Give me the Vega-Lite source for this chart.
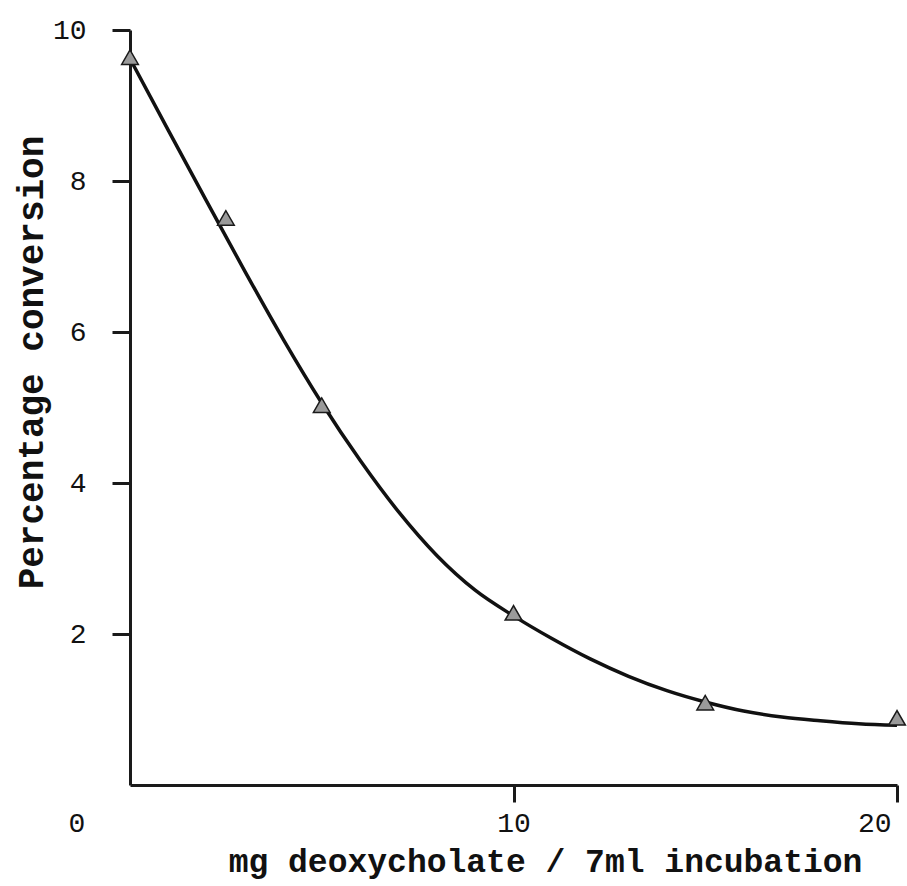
{
  "$schema": "https://vega.github.io/schema/vega-lite/v6.json",
  "autosize": {"type": "none"},
  "width": 767,
  "height": 755,
  "padding": {"left": 130, "top": 30, "right": 10, "bottom": 101},
  "background": "#ffffff",
  "config": {
    "view": {"stroke": null},
    "axis": {
      "grid": false,
      "domainColor": "#1a1a1a",
      "domainWidth": 3,
      "tickColor": "#1a1a1a",
      "tickWidth": 3,
      "labelFont": "Liberation Mono",
      "labelColor": "#111111",
      "titleFont": "Liberation Mono",
      "titleColor": "#111111",
      "titleFontWeight": "bold"
    }
  },
  "datasets": {
    "curve": [
      {"mg": 0, "pct": 9.62},
      {"mg": 1, "pct": 8.67},
      {"mg": 2, "pct": 7.73},
      {"mg": 3, "pct": 6.8},
      {"mg": 4, "pct": 5.9},
      {"mg": 5, "pct": 5.06},
      {"mg": 6, "pct": 4.3},
      {"mg": 7, "pct": 3.62},
      {"mg": 8, "pct": 3.04},
      {"mg": 9, "pct": 2.58},
      {"mg": 10, "pct": 2.24},
      {"mg": 11, "pct": 1.94},
      {"mg": 12, "pct": 1.67},
      {"mg": 13, "pct": 1.44},
      {"mg": 14, "pct": 1.25},
      {"mg": 15, "pct": 1.1},
      {"mg": 16, "pct": 0.98},
      {"mg": 17, "pct": 0.9},
      {"mg": 18, "pct": 0.85},
      {"mg": 19, "pct": 0.81},
      {"mg": 20, "pct": 0.79}
    ],
    "measured": [
      {"mg": 0, "pct": 9.64},
      {"mg": 2.5, "pct": 7.51},
      {"mg": 5, "pct": 5.03},
      {"mg": 10, "pct": 2.28},
      {"mg": 15, "pct": 1.09},
      {"mg": 20, "pct": 0.89}
    ]
  },
  "encoding": {
    "x": {
      "field": "mg",
      "type": "quantitative",
      "scale": {"domain": [0, 20], "nice": false, "zero": false},
      "axis": {
        "values": [0, 10, 20],
        "format": "d",
        "title": "mg deoxycholate / 7ml incubation",
        "titleFontSize": 33,
        "titleBaseline": "alphabetic",
        "titleX": 415,
        "titleY": 86,
        "labelFontSize": 28,
        "labelPadding": 7,
        "tickSize": 17,
        "tickOpacity": {"condition": {"test": "datum.value === 0", "value": 0}, "value": 1},
        "labelOffset": {
          "condition": [
            {"test": "datum.value === 0", "value": -62},
            {"test": "datum.value === 20", "value": -6}
          ],
          "value": 0
        }
      }
    },
    "y": {
      "field": "pct",
      "type": "quantitative",
      "scale": {"domain": [0, 10], "nice": false},
      "axis": {
        "values": [2, 4, 6, 8, 10],
        "format": "d",
        "title": "Percentage conversion",
        "titleFontSize": 36,
        "titleBaseline": "alphabetic",
        "titleX": -88,
        "titleY": 332,
        "labelFontSize": 28,
        "labelPadding": 26,
        "tickSize": 18
      }
    }
  },
  "layer": [
    {
      "data": {"name": "curve"},
      "mark": {"type": "line", "interpolate": "monotone", "color": "#111111", "strokeWidth": 3.5}
    },
    {
      "data": {"name": "measured"},
      "mark": {"type": "point", "shape": "triangle-up", "filled": true, "size": 280, "fill": "#9a9a9a", "stroke": "#1a1a1a", "strokeWidth": 1.5, "opacity": 1}
    }
  ]
}
